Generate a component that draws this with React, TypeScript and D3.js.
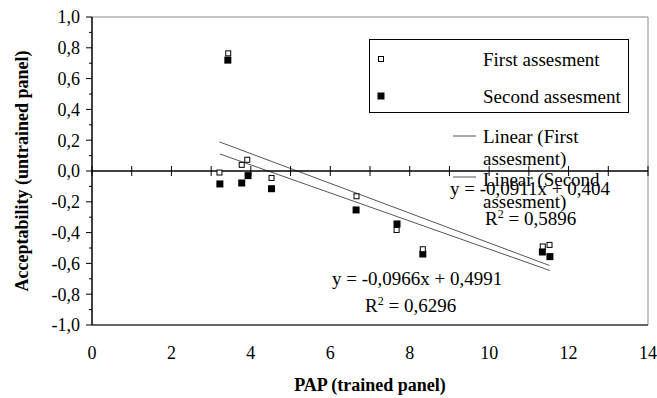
import React from "react";
import * as d3 from "d3";

const firstX = [3.43, 3.21, 3.77, 3.91, 4.52, 6.66, 7.67, 8.33, 11.35, 11.52];
const firstY = [0.764, -0.01, 0.04, 0.073, -0.045, -0.164, -0.383, -0.508, -0.49, -0.48];
const secondX = [3.42, 3.22, 3.77, 3.93, 4.52, 6.65, 7.68, 8.33, 11.34, 11.53];
const secondY = [0.72, -0.084, -0.078, -0.03, -0.115, -0.253, -0.344, -0.539, -0.526, -0.556];

// trendline coefficients [slope, intercept] as printed on the chart
const trendFirst = [-0.0966, 0.4991];
const trendSecond = [-0.0911, 0.404];

const xTicks = [0, 2, 4, 6, 8, 10, 12, 14];
const yTicks = [-1, -0.8, -0.6, -0.4, -0.2, 0, 0.2, 0.4, 0.6, 0.8, 1];

const W = 657;
const H = 398;
const FONT = "'Liberation Serif', 'Times New Roman', serif";

export default function App() {
  const x = d3.scaleLinear().domain([0, 14]).range([92, 648]);
  const y = d3.scaleLinear().domain([-1, 1]).range([325, 17]);
  const fmt = (v: number) => d3.format(".1f")(v).replace(".", ",").replace("−", "-");

  const minorY = d3.range(-10, 11).map((i) => i / 10);
  const minorX = d3.range(0, 15);

  const trendPath = (coef: number[], xs: number[]) => {
    const x0 = d3.min(xs) as number;
    const x1 = d3.max(xs) as number;
    const line = d3.line<number>().x((v) => x(v)).y((v) => y(coef[0] * v + coef[1]));
    return line([x0, x1]) as string;
  };

  return (
    <svg width={W} height={H} style={{ position: "absolute", left: 0, top: 0, background: "#fff" }} fontFamily={FONT}>
      <rect x={0} y={0} width={W} height={H} fill="#fff" />
      {/* plot frame top/right */}
      <line x1={x(0)} x2={x(14)} y1={y(1)} y2={y(1)} stroke="#888" strokeWidth={1} />
      <line x1={x(14)} x2={x(14)} y1={y(1)} y2={y(-1)} stroke="#888" strokeWidth={1} />
      <line x1={x(0)} x2={x(14)} y1={y(-1)} y2={y(-1)} stroke="#333" strokeWidth={1.5} />

      {/* trend lines */}
      <path d={trendPath(trendFirst, firstX)} stroke="#555" strokeWidth={1} fill="none" />
      <path d={trendPath(trendSecond, secondX)} stroke="#555" strokeWidth={1} fill="none" />

      {/* y axis */}
      <line x1={x(0)} x2={x(0)} y1={y(1)} y2={y(-1)} stroke="#000" strokeWidth={1.5} />
      {minorY.map((v, i) => (
        <line key={"my" + i} x1={x(0) - (i % 2 === 0 ? 6 : 3)} x2={x(0)} y1={y(v)} y2={y(v)} stroke="#000" strokeWidth={1} />
      ))}
      {yTicks.map((v) => (
        <text key={"yt" + v} x={80} y={y(v)} dy="0.35em" textAnchor="end" fontSize={18}>
          {fmt(v)}
        </text>
      ))}

      {/* zero line with ticks */}
      <line x1={x(0)} x2={x(14)} y1={y(0)} y2={y(0)} stroke="#000" strokeWidth={1.5} />
      {minorX.map((v) => (
        <line key={"mx" + v} x1={x(v)} x2={x(v)} y1={y(0) - 5} y2={y(0) + 5} stroke="#000" strokeWidth={1} />
      ))}
      {xTicks.map((v) => (
        <text key={"xt" + v} x={x(v)} y={353} dy="0.35em" textAnchor="middle" fontSize={18}>
          {v}
        </text>
      ))}

      {/* points */}
      {secondX.map((v, i) => (
        <rect key={"s" + i} x={x(v) - 3.5} y={y(secondY[i]) - 3.5} width={7} height={7} fill="#000" />
      ))}
      {firstX.map((v, i) => (
        <rect key={"f" + i} x={x(v) - 2.5} y={y(firstY[i]) - 2.5} width={5} height={5} fill="#fff" stroke="#000" strokeWidth={1} />
      ))}

      {/* legend */}
      <rect x={369.5} y={39.5} width={259} height={73} fill="#fff" stroke="#000" strokeWidth={1} />
      <rect x={378.5} y={56.5} width={5} height={5} fill="#fff" stroke="#000" strokeWidth={1} />
      <text x={483} y={59} dy="0.35em" fontSize={19}>First assesment</text>
      <rect x={377.5} y={92.5} width={7} height={7} fill="#000" />
      <text x={483} y={96} dy="0.35em" fontSize={19}>Second assesment</text>
      <line x1={453} x2={476} y1={136} y2={136} stroke="#555" strokeWidth={1} />
      <text x={483} y={136} dy="0.35em" fontSize={19}>Linear (First</text>
      <text x={483} y={158} dy="0.35em" fontSize={19}>assesment)</text>
      <line x1={453} x2={476} y1={177} y2={177} stroke="#555" strokeWidth={1} />
      <text x={483} y={179} dy="0.35em" fontSize={19}>Linear (Second</text>
      <text x={483} y={201} dy="0.35em" fontSize={19}>assesment)</text>

      {/* equations */}
      <text x={450} y={188} dy="0.35em" fontSize={19}>y = -0,0911x + 0,404</text>
      <text x={485} y={218} dy="0.35em" fontSize={19}>
        R<tspan dy="-7" fontSize={12}>2</tspan><tspan dy="7"> = 0,5896</tspan>
      </text>
      <text x={332} y={278} dy="0.35em" fontSize={19}>y = -0,0966x + 0,4991</text>
      <text x={365} y={305} dy="0.35em" fontSize={19}>
        R<tspan dy="-7" fontSize={12}>2</tspan><tspan dy="7"> = 0,6296</tspan>
      </text>

      {/* axis titles */}
      <text x={370} y={385} dy="0.35em" textAnchor="middle" fontSize={18} fontWeight="bold">
        PAP (trained panel)
      </text>
      <text transform={`translate(22,${171}) rotate(-90)`} dy="0.35em" textAnchor="middle" fontSize={18} fontWeight="bold">
        Acceptability (untrained panel)
      </text>
    </svg>
  );
}
